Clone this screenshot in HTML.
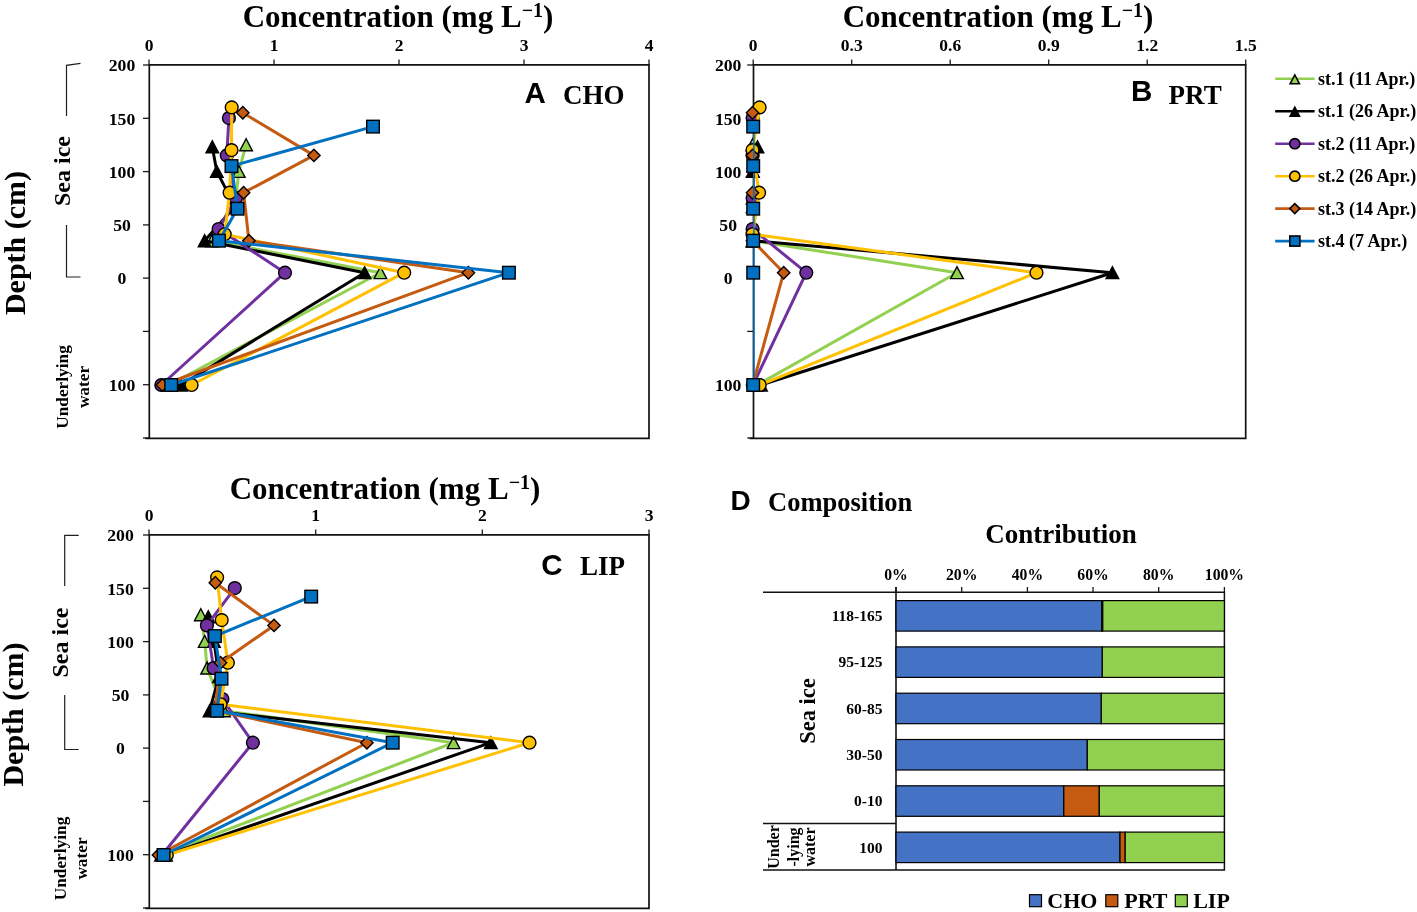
<!DOCTYPE html><html><head><meta charset="utf-8"><style>html,body{margin:0;padding:0;background:#fff;}svg{display:block;will-change:transform;}</style></head><body>
<svg width="1417" height="912" viewBox="0 0 1417 912">
<rect width="1417" height="912" fill="#fff"/>
<text transform="translate(24.5,243.0) rotate(-90)" font-family="Liberation Serif, serif" font-weight="bold" font-size="30" text-anchor="middle">Depth (cm)</text>
<path d="M80.5,63.3 L66.5,65.3 V116" fill="none" stroke="#222" stroke-width="1.2"/>
<path d="M66.5,225 V277 H80.5" fill="none" stroke="#222" stroke-width="1.2"/>
<text transform="translate(69.5,171.0) rotate(-90)" font-family="Liberation Serif, serif" font-weight="bold" font-size="24" text-anchor="middle">Sea ice</text>
<text transform="translate(67.5,387.0) rotate(-90)" font-family="Liberation Serif, serif" font-weight="bold" font-size="17.3" text-anchor="middle">Underlying</text>
<text transform="translate(88.7,387.0) rotate(-90)" font-family="Liberation Serif, serif" font-weight="bold" font-size="17.3" text-anchor="middle">water</text>
<text transform="translate(22.7,714.5) rotate(-90)" font-family="Liberation Serif, serif" font-weight="bold" font-size="30" text-anchor="middle">Depth (cm)</text>
<path d="M78.7,535.3 L64.7,535.3 V586" fill="none" stroke="#222" stroke-width="1.2"/>
<path d="M64.7,695 V749.5 H78.7" fill="none" stroke="#222" stroke-width="1.2"/>
<text transform="translate(67.7,642.5) rotate(-90)" font-family="Liberation Serif, serif" font-weight="bold" font-size="24" text-anchor="middle">Sea ice</text>
<text transform="translate(65.7,858.5) rotate(-90)" font-family="Liberation Serif, serif" font-weight="bold" font-size="17.3" text-anchor="middle">Underlying</text>
<text transform="translate(86.9,858.5) rotate(-90)" font-family="Liberation Serif, serif" font-weight="bold" font-size="17.3" text-anchor="middle">water</text>
<text x="398" y="26.5" font-family="Liberation Serif, serif" font-weight="bold" font-size="31" text-anchor="middle">Concentration (mg L<tspan font-size="20" dy="-10">−1</tspan><tspan dy="10">)</tspan></text>
<path d="M149.3,438.3 V64.8 H649.0 V438.3 H145.3" fill="none" stroke="#111" stroke-width="1.7"/>
<line x1="149.0" y1="59.5" x2="149.0" y2="65" stroke="#1a1a1a" stroke-width="1.3"/>
<text x="149.0" y="50.8" font-family="Liberation Serif, serif" font-weight="bold" font-size="17.5" text-anchor="middle">0</text>
<line x1="274.0" y1="59.5" x2="274.0" y2="65" stroke="#1a1a1a" stroke-width="1.3"/>
<text x="274.0" y="50.8" font-family="Liberation Serif, serif" font-weight="bold" font-size="17.5" text-anchor="middle">1</text>
<line x1="399.0" y1="59.5" x2="399.0" y2="65" stroke="#1a1a1a" stroke-width="1.3"/>
<text x="399.0" y="50.8" font-family="Liberation Serif, serif" font-weight="bold" font-size="17.5" text-anchor="middle">2</text>
<line x1="524.0" y1="59.5" x2="524.0" y2="65" stroke="#1a1a1a" stroke-width="1.3"/>
<text x="524.0" y="50.8" font-family="Liberation Serif, serif" font-weight="bold" font-size="17.5" text-anchor="middle">3</text>
<line x1="649.0" y1="59.5" x2="649.0" y2="65" stroke="#1a1a1a" stroke-width="1.3"/>
<text x="649.0" y="50.8" font-family="Liberation Serif, serif" font-weight="bold" font-size="17.5" text-anchor="middle">4</text>
<line x1="143" y1="65.0" x2="149" y2="65.0" stroke="#1a1a1a" stroke-width="1.3"/>
<text x="122.0" y="71.3" font-family="Liberation Serif, serif" font-weight="bold" font-size="17.7" text-anchor="middle">200</text>
<line x1="143" y1="118.3" x2="149" y2="118.3" stroke="#1a1a1a" stroke-width="1.3"/>
<text x="122.0" y="124.6" font-family="Liberation Serif, serif" font-weight="bold" font-size="17.7" text-anchor="middle">150</text>
<line x1="143" y1="171.6" x2="149" y2="171.6" stroke="#1a1a1a" stroke-width="1.3"/>
<text x="122.0" y="177.9" font-family="Liberation Serif, serif" font-weight="bold" font-size="17.7" text-anchor="middle">100</text>
<line x1="143" y1="224.9" x2="149" y2="224.9" stroke="#1a1a1a" stroke-width="1.3"/>
<text x="122.0" y="231.2" font-family="Liberation Serif, serif" font-weight="bold" font-size="17.7" text-anchor="middle">50</text>
<line x1="143" y1="278.1" x2="149" y2="278.1" stroke="#1a1a1a" stroke-width="1.3"/>
<text x="122.0" y="284.4" font-family="Liberation Serif, serif" font-weight="bold" font-size="17.7" text-anchor="middle">0</text>
<line x1="143" y1="331.4" x2="149" y2="331.4" stroke="#1a1a1a" stroke-width="1.3"/>
<line x1="143" y1="384.7" x2="149" y2="384.7" stroke="#1a1a1a" stroke-width="1.3"/>
<text x="122.0" y="391.0" font-family="Liberation Serif, serif" font-weight="bold" font-size="17.7" text-anchor="middle">100</text>
<line x1="143" y1="438.0" x2="149" y2="438.0" stroke="#1a1a1a" stroke-width="1.3"/>
<text x="524.5" y="103.0" font-family="Liberation Sans, sans-serif" font-weight="bold" font-size="29.5">A</text>
<text x="563" y="104.0" font-family="Liberation Serif, serif" font-weight="bold" font-size="27">CHO</text>
<clipPath id="clip149_0"><rect x="149" y="65" width="500.0" height="373"/></clipPath>
<polyline points="246.1,144.8 238.8,171.4 236.0,198.1 212.0,240.7 380.4,272.7 169.0,385.0" fill="none" stroke="#92D050" stroke-width="3.0" stroke-linejoin="round" clip-path="url(#clip149_0)"/>
<polygon points="239.80,150.75 252.40,150.75 246.10,138.75" fill="#92D050" stroke="#000" stroke-width="1.40" stroke-linejoin="miter"/>
<polygon points="232.50,177.40 245.10,177.40 238.80,165.40" fill="#92D050" stroke="#000" stroke-width="1.40" stroke-linejoin="miter"/>
<polygon points="229.70,204.05 242.30,204.05 236.00,192.05" fill="#92D050" stroke="#000" stroke-width="1.40" stroke-linejoin="miter"/>
<polygon points="205.70,246.69 218.30,246.69 212.00,234.69" fill="#92D050" stroke="#000" stroke-width="1.40" stroke-linejoin="miter"/>
<polygon points="374.10,278.67 386.70,278.67 380.40,266.67" fill="#92D050" stroke="#000" stroke-width="1.40" stroke-linejoin="miter"/>
<polygon points="162.70,391.00 175.30,391.00 169.00,379.00" fill="#92D050" stroke="#000" stroke-width="1.40" stroke-linejoin="miter"/>
<polyline points="212.3,146.9 216.8,171.4 235.0,206.6 204.6,240.7 364.6,272.7 181.0,385.0" fill="none" stroke="#000000" stroke-width="3.0" stroke-linejoin="round" clip-path="url(#clip149_0)"/>
<polygon points="206.00,152.88 218.60,152.88 212.30,140.88" fill="#000000" stroke="#000" stroke-width="1.40" stroke-linejoin="miter"/>
<polygon points="210.50,177.40 223.10,177.40 216.80,165.40" fill="#000000" stroke="#000" stroke-width="1.40" stroke-linejoin="miter"/>
<polygon points="228.70,212.58 241.30,212.58 235.00,200.58" fill="#000000" stroke="#000" stroke-width="1.40" stroke-linejoin="miter"/>
<polygon points="198.30,246.69 210.90,246.69 204.60,234.69" fill="#000000" stroke="#000" stroke-width="1.40" stroke-linejoin="miter"/>
<polygon points="358.30,278.67 370.90,278.67 364.60,266.67" fill="#000000" stroke="#000" stroke-width="1.40" stroke-linejoin="miter"/>
<polygon points="174.70,391.00 187.30,391.00 181.00,379.00" fill="#000000" stroke="#000" stroke-width="1.40" stroke-linejoin="miter"/>
<polyline points="228.9,118.1 226.8,155.4 236.0,198.1 218.6,229.0 285.0,272.7 161.3,385.0" fill="none" stroke="#7030A0" stroke-width="3.0" stroke-linejoin="round" clip-path="url(#clip149_0)"/>
<circle cx="228.9" cy="118.1" r="6.40" fill="#7030A0" stroke="#000" stroke-width="1.40"/>
<circle cx="226.8" cy="155.4" r="6.40" fill="#7030A0" stroke="#000" stroke-width="1.40"/>
<circle cx="236.0" cy="198.1" r="6.40" fill="#7030A0" stroke="#000" stroke-width="1.40"/>
<circle cx="218.6" cy="229.0" r="6.40" fill="#7030A0" stroke="#000" stroke-width="1.40"/>
<circle cx="285.0" cy="272.7" r="6.40" fill="#7030A0" stroke="#000" stroke-width="1.40"/>
<circle cx="161.3" cy="385.0" r="6.40" fill="#7030A0" stroke="#000" stroke-width="1.40"/>
<polyline points="231.7,107.4 231.5,150.1 229.6,192.7 224.7,234.3 404.2,272.7 191.6,385.0" fill="none" stroke="#FFC000" stroke-width="3.0" stroke-linejoin="round" clip-path="url(#clip149_0)"/>
<circle cx="231.7" cy="107.4" r="6.40" fill="#FFC000" stroke="#000" stroke-width="1.40"/>
<circle cx="231.5" cy="150.1" r="6.40" fill="#FFC000" stroke="#000" stroke-width="1.40"/>
<circle cx="229.6" cy="192.7" r="6.40" fill="#FFC000" stroke="#000" stroke-width="1.40"/>
<circle cx="224.7" cy="234.3" r="6.40" fill="#FFC000" stroke="#000" stroke-width="1.40"/>
<circle cx="404.2" cy="272.7" r="6.40" fill="#FFC000" stroke="#000" stroke-width="1.40"/>
<circle cx="191.6" cy="385.0" r="6.40" fill="#FFC000" stroke="#000" stroke-width="1.40"/>
<polyline points="242.8,112.8 313.9,155.4 243.6,192.7 248.9,240.7 468.4,272.7 162.3,385.0" fill="none" stroke="#C55A11" stroke-width="3.0" stroke-linejoin="round" clip-path="url(#clip149_0)"/>
<polygon points="242.8,106.6 249.0,112.8 242.8,119.0 236.6,112.8" fill="#C55A11" stroke="#000" stroke-width="1.40"/>
<polygon points="313.9,149.2 320.1,155.4 313.9,161.6 307.7,155.4" fill="#C55A11" stroke="#000" stroke-width="1.40"/>
<polygon points="243.6,186.5 249.8,192.7 243.6,198.9 237.4,192.7" fill="#C55A11" stroke="#000" stroke-width="1.40"/>
<polygon points="248.9,234.5 255.1,240.7 248.9,246.9 242.7,240.7" fill="#C55A11" stroke="#000" stroke-width="1.40"/>
<polygon points="468.4,266.5 474.6,272.7 468.4,278.9 462.2,272.7" fill="#C55A11" stroke="#000" stroke-width="1.40"/>
<polygon points="162.3,378.8 168.5,385.0 162.3,391.2 156.1,385.0" fill="#C55A11" stroke="#000" stroke-width="1.40"/>
<polyline points="373.0,126.6 231.5,166.1 237.5,208.7 219.0,240.7 508.9,272.7 171.2,385.0" fill="none" stroke="#0070C0" stroke-width="3.0" stroke-linejoin="round" clip-path="url(#clip149_0)"/>
<rect x="366.7" y="120.3" width="12.6" height="12.6" fill="#0070C0" stroke="#000" stroke-width="1.40"/>
<rect x="225.2" y="159.8" width="12.6" height="12.6" fill="#0070C0" stroke="#000" stroke-width="1.40"/>
<rect x="231.2" y="202.4" width="12.6" height="12.6" fill="#0070C0" stroke="#000" stroke-width="1.40"/>
<rect x="212.7" y="234.4" width="12.6" height="12.6" fill="#0070C0" stroke="#000" stroke-width="1.40"/>
<rect x="502.6" y="266.4" width="12.6" height="12.6" fill="#0070C0" stroke="#000" stroke-width="1.40"/>
<rect x="164.9" y="378.7" width="12.6" height="12.6" fill="#0070C0" stroke="#000" stroke-width="1.40"/>
<text x="998" y="26.5" font-family="Liberation Serif, serif" font-weight="bold" font-size="31" text-anchor="middle">Concentration (mg L<tspan font-size="20" dy="-10">−1</tspan><tspan dy="10">)</tspan></text>
<path d="M753.5,438.3 V64.8 H1245.7 V438.3 H749.5" fill="none" stroke="#111" stroke-width="1.7"/>
<line x1="753.2" y1="59.5" x2="753.2" y2="65" stroke="#1a1a1a" stroke-width="1.3"/>
<text x="753.2" y="50.8" font-family="Liberation Serif, serif" font-weight="bold" font-size="17.5" text-anchor="middle">0</text>
<line x1="851.7" y1="59.5" x2="851.7" y2="65" stroke="#1a1a1a" stroke-width="1.3"/>
<text x="851.7" y="50.8" font-family="Liberation Serif, serif" font-weight="bold" font-size="17.5" text-anchor="middle">0.3</text>
<line x1="950.2" y1="59.5" x2="950.2" y2="65" stroke="#1a1a1a" stroke-width="1.3"/>
<text x="950.2" y="50.8" font-family="Liberation Serif, serif" font-weight="bold" font-size="17.5" text-anchor="middle">0.6</text>
<line x1="1048.7" y1="59.5" x2="1048.7" y2="65" stroke="#1a1a1a" stroke-width="1.3"/>
<text x="1048.7" y="50.8" font-family="Liberation Serif, serif" font-weight="bold" font-size="17.5" text-anchor="middle">0.9</text>
<line x1="1147.2" y1="59.5" x2="1147.2" y2="65" stroke="#1a1a1a" stroke-width="1.3"/>
<text x="1147.2" y="50.8" font-family="Liberation Serif, serif" font-weight="bold" font-size="17.5" text-anchor="middle">1.2</text>
<line x1="1245.7" y1="59.5" x2="1245.7" y2="65" stroke="#1a1a1a" stroke-width="1.3"/>
<text x="1245.7" y="50.8" font-family="Liberation Serif, serif" font-weight="bold" font-size="17.5" text-anchor="middle">1.5</text>
<line x1="747.2" y1="65.0" x2="753.2" y2="65.0" stroke="#1a1a1a" stroke-width="1.3"/>
<text x="728.2" y="71.3" font-family="Liberation Serif, serif" font-weight="bold" font-size="17.7" text-anchor="middle">200</text>
<line x1="747.2" y1="118.3" x2="753.2" y2="118.3" stroke="#1a1a1a" stroke-width="1.3"/>
<text x="728.2" y="124.6" font-family="Liberation Serif, serif" font-weight="bold" font-size="17.7" text-anchor="middle">150</text>
<line x1="747.2" y1="171.6" x2="753.2" y2="171.6" stroke="#1a1a1a" stroke-width="1.3"/>
<text x="728.2" y="177.9" font-family="Liberation Serif, serif" font-weight="bold" font-size="17.7" text-anchor="middle">100</text>
<line x1="747.2" y1="224.9" x2="753.2" y2="224.9" stroke="#1a1a1a" stroke-width="1.3"/>
<text x="728.2" y="231.2" font-family="Liberation Serif, serif" font-weight="bold" font-size="17.7" text-anchor="middle">50</text>
<line x1="747.2" y1="278.1" x2="753.2" y2="278.1" stroke="#1a1a1a" stroke-width="1.3"/>
<text x="728.2" y="284.4" font-family="Liberation Serif, serif" font-weight="bold" font-size="17.7" text-anchor="middle">0</text>
<line x1="747.2" y1="331.4" x2="753.2" y2="331.4" stroke="#1a1a1a" stroke-width="1.3"/>
<line x1="747.2" y1="384.7" x2="753.2" y2="384.7" stroke="#1a1a1a" stroke-width="1.3"/>
<text x="728.2" y="391.0" font-family="Liberation Serif, serif" font-weight="bold" font-size="17.7" text-anchor="middle">100</text>
<line x1="747.2" y1="438.0" x2="753.2" y2="438.0" stroke="#1a1a1a" stroke-width="1.3"/>
<text x="1131.0" y="101.2" font-family="Liberation Sans, sans-serif" font-weight="bold" font-size="29.5">B</text>
<text x="1168.6" y="104.0" font-family="Liberation Serif, serif" font-weight="bold" font-size="27">PRT</text>
<clipPath id="clip753_0"><rect x="753.2" y="65" width="492.5" height="373"/></clipPath>
<polyline points="752.6,144.8 752.6,171.4 752.6,198.1 752.6,240.7 957.0,272.7 757.0,385.0" fill="none" stroke="#92D050" stroke-width="3.0" stroke-linejoin="round" clip-path="url(#clip753_0)"/>
<polygon points="746.30,150.75 758.90,150.75 752.60,138.75" fill="#92D050" stroke="#000" stroke-width="1.40" stroke-linejoin="miter"/>
<polygon points="746.30,177.40 758.90,177.40 752.60,165.40" fill="#92D050" stroke="#000" stroke-width="1.40" stroke-linejoin="miter"/>
<polygon points="746.30,204.05 758.90,204.05 752.60,192.05" fill="#92D050" stroke="#000" stroke-width="1.40" stroke-linejoin="miter"/>
<polygon points="746.30,246.69 758.90,246.69 752.60,234.69" fill="#92D050" stroke="#000" stroke-width="1.40" stroke-linejoin="miter"/>
<polygon points="950.70,278.67 963.30,278.67 957.00,266.67" fill="#92D050" stroke="#000" stroke-width="1.40" stroke-linejoin="miter"/>
<polygon points="750.70,391.00 763.30,391.00 757.00,379.00" fill="#92D050" stroke="#000" stroke-width="1.40" stroke-linejoin="miter"/>
<polyline points="757.5,146.9 753.0,171.4 752.6,206.6 752.6,240.7 1112.4,272.7 761.0,385.0" fill="none" stroke="#000000" stroke-width="3.0" stroke-linejoin="round" clip-path="url(#clip753_0)"/>
<polygon points="751.20,152.88 763.80,152.88 757.50,140.88" fill="#000000" stroke="#000" stroke-width="1.40" stroke-linejoin="miter"/>
<polygon points="746.70,177.40 759.30,177.40 753.00,165.40" fill="#000000" stroke="#000" stroke-width="1.40" stroke-linejoin="miter"/>
<polygon points="746.30,212.58 758.90,212.58 752.60,200.58" fill="#000000" stroke="#000" stroke-width="1.40" stroke-linejoin="miter"/>
<polygon points="746.30,246.69 758.90,246.69 752.60,234.69" fill="#000000" stroke="#000" stroke-width="1.40" stroke-linejoin="miter"/>
<polygon points="1106.10,278.67 1118.70,278.67 1112.40,266.67" fill="#000000" stroke="#000" stroke-width="1.40" stroke-linejoin="miter"/>
<polygon points="754.70,391.00 767.30,391.00 761.00,379.00" fill="#000000" stroke="#000" stroke-width="1.40" stroke-linejoin="miter"/>
<polyline points="752.6,118.1 752.6,155.4 752.6,198.1 752.6,229.0 806.3,272.7 753.0,385.0" fill="none" stroke="#7030A0" stroke-width="3.0" stroke-linejoin="round" clip-path="url(#clip753_0)"/>
<circle cx="752.6" cy="118.1" r="6.40" fill="#7030A0" stroke="#000" stroke-width="1.40"/>
<circle cx="752.6" cy="155.4" r="6.40" fill="#7030A0" stroke="#000" stroke-width="1.40"/>
<circle cx="752.6" cy="198.1" r="6.40" fill="#7030A0" stroke="#000" stroke-width="1.40"/>
<circle cx="752.6" cy="229.0" r="6.40" fill="#7030A0" stroke="#000" stroke-width="1.40"/>
<circle cx="806.3" cy="272.7" r="6.40" fill="#7030A0" stroke="#000" stroke-width="1.40"/>
<circle cx="753.0" cy="385.0" r="6.40" fill="#7030A0" stroke="#000" stroke-width="1.40"/>
<polyline points="759.6,107.4 752.5,150.1 759.1,192.7 752.5,234.3 1036.5,272.7 759.7,385.0" fill="none" stroke="#FFC000" stroke-width="3.0" stroke-linejoin="round" clip-path="url(#clip753_0)"/>
<circle cx="759.6" cy="107.4" r="6.40" fill="#FFC000" stroke="#000" stroke-width="1.40"/>
<circle cx="752.5" cy="150.1" r="6.40" fill="#FFC000" stroke="#000" stroke-width="1.40"/>
<circle cx="759.1" cy="192.7" r="6.40" fill="#FFC000" stroke="#000" stroke-width="1.40"/>
<circle cx="752.5" cy="234.3" r="6.40" fill="#FFC000" stroke="#000" stroke-width="1.40"/>
<circle cx="1036.5" cy="272.7" r="6.40" fill="#FFC000" stroke="#000" stroke-width="1.40"/>
<circle cx="759.7" cy="385.0" r="6.40" fill="#FFC000" stroke="#000" stroke-width="1.40"/>
<polyline points="752.5,112.8 752.5,155.4 752.5,192.7 752.5,240.7 783.7,272.7 752.6,385.0" fill="none" stroke="#C55A11" stroke-width="3.0" stroke-linejoin="round" clip-path="url(#clip753_0)"/>
<polygon points="752.5,106.6 758.7,112.8 752.5,119.0 746.3,112.8" fill="#C55A11" stroke="#000" stroke-width="1.40"/>
<polygon points="752.5,149.2 758.7,155.4 752.5,161.6 746.3,155.4" fill="#C55A11" stroke="#000" stroke-width="1.40"/>
<polygon points="752.5,186.5 758.7,192.7 752.5,198.9 746.3,192.7" fill="#C55A11" stroke="#000" stroke-width="1.40"/>
<polygon points="752.5,234.5 758.7,240.7 752.5,246.9 746.3,240.7" fill="#C55A11" stroke="#000" stroke-width="1.40"/>
<polygon points="783.7,266.5 789.9,272.7 783.7,278.9 777.5,272.7" fill="#C55A11" stroke="#000" stroke-width="1.40"/>
<polygon points="752.6,378.8 758.8,385.0 752.6,391.2 746.4,385.0" fill="#C55A11" stroke="#000" stroke-width="1.40"/>
<polyline points="753.2,126.6 753.2,166.1 753.2,208.7 753.2,240.7 753.2,272.7 753.2,385.0" fill="none" stroke="#0070C0" stroke-width="3.0" stroke-linejoin="round" clip-path="url(#clip753_0)"/>
<rect x="746.9" y="120.3" width="12.6" height="12.6" fill="#0070C0" stroke="#000" stroke-width="1.40"/>
<rect x="746.9" y="159.8" width="12.6" height="12.6" fill="#0070C0" stroke="#000" stroke-width="1.40"/>
<rect x="746.9" y="202.4" width="12.6" height="12.6" fill="#0070C0" stroke="#000" stroke-width="1.40"/>
<rect x="746.9" y="234.4" width="12.6" height="12.6" fill="#0070C0" stroke="#000" stroke-width="1.40"/>
<rect x="746.9" y="266.4" width="12.6" height="12.6" fill="#0070C0" stroke="#000" stroke-width="1.40"/>
<rect x="746.9" y="378.7" width="12.6" height="12.6" fill="#0070C0" stroke="#000" stroke-width="1.40"/>
<text x="385" y="498.5" font-family="Liberation Serif, serif" font-weight="bold" font-size="31" text-anchor="middle">Concentration (mg L<tspan font-size="20" dy="-10">−1</tspan><tspan dy="10">)</tspan></text>
<path d="M149.3,908.3 V534.8 H649.0 V908.3 H145.3" fill="none" stroke="#111" stroke-width="1.7"/>
<line x1="149.0" y1="529.5" x2="149.0" y2="535" stroke="#1a1a1a" stroke-width="1.3"/>
<text x="149.0" y="520.8" font-family="Liberation Serif, serif" font-weight="bold" font-size="17.5" text-anchor="middle">0</text>
<line x1="315.7" y1="529.5" x2="315.7" y2="535" stroke="#1a1a1a" stroke-width="1.3"/>
<text x="315.7" y="520.8" font-family="Liberation Serif, serif" font-weight="bold" font-size="17.5" text-anchor="middle">1</text>
<line x1="482.3" y1="529.5" x2="482.3" y2="535" stroke="#1a1a1a" stroke-width="1.3"/>
<text x="482.3" y="520.8" font-family="Liberation Serif, serif" font-weight="bold" font-size="17.5" text-anchor="middle">2</text>
<line x1="649.0" y1="529.5" x2="649.0" y2="535" stroke="#1a1a1a" stroke-width="1.3"/>
<text x="649.0" y="520.8" font-family="Liberation Serif, serif" font-weight="bold" font-size="17.5" text-anchor="middle">3</text>
<line x1="143" y1="535.0" x2="149" y2="535.0" stroke="#1a1a1a" stroke-width="1.3"/>
<text x="120.5" y="541.3" font-family="Liberation Serif, serif" font-weight="bold" font-size="17.7" text-anchor="middle">200</text>
<line x1="143" y1="588.3" x2="149" y2="588.3" stroke="#1a1a1a" stroke-width="1.3"/>
<text x="120.5" y="594.6" font-family="Liberation Serif, serif" font-weight="bold" font-size="17.7" text-anchor="middle">150</text>
<line x1="143" y1="641.6" x2="149" y2="641.6" stroke="#1a1a1a" stroke-width="1.3"/>
<text x="120.5" y="647.9" font-family="Liberation Serif, serif" font-weight="bold" font-size="17.7" text-anchor="middle">100</text>
<line x1="143" y1="694.9" x2="149" y2="694.9" stroke="#1a1a1a" stroke-width="1.3"/>
<text x="120.5" y="701.2" font-family="Liberation Serif, serif" font-weight="bold" font-size="17.7" text-anchor="middle">50</text>
<line x1="143" y1="748.1" x2="149" y2="748.1" stroke="#1a1a1a" stroke-width="1.3"/>
<text x="120.5" y="754.4" font-family="Liberation Serif, serif" font-weight="bold" font-size="17.7" text-anchor="middle">0</text>
<line x1="143" y1="801.4" x2="149" y2="801.4" stroke="#1a1a1a" stroke-width="1.3"/>
<line x1="143" y1="854.7" x2="149" y2="854.7" stroke="#1a1a1a" stroke-width="1.3"/>
<text x="120.5" y="861.0" font-family="Liberation Serif, serif" font-weight="bold" font-size="17.7" text-anchor="middle">100</text>
<line x1="143" y1="908.0" x2="149" y2="908.0" stroke="#1a1a1a" stroke-width="1.3"/>
<text x="541.3" y="575.0" font-family="Liberation Sans, sans-serif" font-weight="bold" font-size="29.5">C</text>
<text x="580" y="575.4" font-family="Liberation Serif, serif" font-weight="bold" font-size="27">LIP</text>
<clipPath id="clip149_470"><rect x="149" y="535" width="500.0" height="373"/></clipPath>
<polyline points="200.8,614.8 204.7,641.4 207.1,668.0 224.0,710.7 453.6,742.7 161.0,855.0" fill="none" stroke="#92D050" stroke-width="3.0" stroke-linejoin="round" clip-path="url(#clip149_470)"/>
<polygon points="194.50,620.75 207.10,620.75 200.80,608.75" fill="#92D050" stroke="#000" stroke-width="1.40" stroke-linejoin="miter"/>
<polygon points="198.40,647.40 211.00,647.40 204.70,635.40" fill="#92D050" stroke="#000" stroke-width="1.40" stroke-linejoin="miter"/>
<polygon points="200.80,674.05 213.40,674.05 207.10,662.05" fill="#92D050" stroke="#000" stroke-width="1.40" stroke-linejoin="miter"/>
<polygon points="217.70,716.69 230.30,716.69 224.00,704.69" fill="#92D050" stroke="#000" stroke-width="1.40" stroke-linejoin="miter"/>
<polygon points="447.30,748.67 459.90,748.67 453.60,736.67" fill="#92D050" stroke="#000" stroke-width="1.40" stroke-linejoin="miter"/>
<polygon points="154.70,861.00 167.30,861.00 161.00,849.00" fill="#92D050" stroke="#000" stroke-width="1.40" stroke-linejoin="miter"/>
<polyline points="208.3,616.9 214.0,641.4 219.0,676.6 209.6,710.7 490.8,742.7 166.0,855.0" fill="none" stroke="#000000" stroke-width="3.0" stroke-linejoin="round" clip-path="url(#clip149_470)"/>
<polygon points="202.00,622.88 214.60,622.88 208.30,610.88" fill="#000000" stroke="#000" stroke-width="1.40" stroke-linejoin="miter"/>
<polygon points="207.70,647.40 220.30,647.40 214.00,635.40" fill="#000000" stroke="#000" stroke-width="1.40" stroke-linejoin="miter"/>
<polygon points="212.70,682.58 225.30,682.58 219.00,670.58" fill="#000000" stroke="#000" stroke-width="1.40" stroke-linejoin="miter"/>
<polygon points="203.30,716.69 215.90,716.69 209.60,704.69" fill="#000000" stroke="#000" stroke-width="1.40" stroke-linejoin="miter"/>
<polygon points="484.50,748.67 497.10,748.67 490.80,736.67" fill="#000000" stroke="#000" stroke-width="1.40" stroke-linejoin="miter"/>
<polygon points="159.70,861.00 172.30,861.00 166.00,849.00" fill="#000000" stroke="#000" stroke-width="1.40" stroke-linejoin="miter"/>
<polyline points="234.8,588.1 206.9,625.4 213.6,668.0 222.4,699.0 252.9,742.7 162.0,855.0" fill="none" stroke="#7030A0" stroke-width="3.0" stroke-linejoin="round" clip-path="url(#clip149_470)"/>
<circle cx="234.8" cy="588.1" r="6.40" fill="#7030A0" stroke="#000" stroke-width="1.40"/>
<circle cx="206.9" cy="625.4" r="6.40" fill="#7030A0" stroke="#000" stroke-width="1.40"/>
<circle cx="213.6" cy="668.0" r="6.40" fill="#7030A0" stroke="#000" stroke-width="1.40"/>
<circle cx="222.4" cy="699.0" r="6.40" fill="#7030A0" stroke="#000" stroke-width="1.40"/>
<circle cx="252.9" cy="742.7" r="6.40" fill="#7030A0" stroke="#000" stroke-width="1.40"/>
<circle cx="162.0" cy="855.0" r="6.40" fill="#7030A0" stroke="#000" stroke-width="1.40"/>
<polyline points="217.1,577.4 221.7,620.1 227.9,662.7 220.5,704.3 529.5,742.7 166.8,855.0" fill="none" stroke="#FFC000" stroke-width="3.0" stroke-linejoin="round" clip-path="url(#clip149_470)"/>
<circle cx="217.1" cy="577.4" r="6.40" fill="#FFC000" stroke="#000" stroke-width="1.40"/>
<circle cx="221.7" cy="620.1" r="6.40" fill="#FFC000" stroke="#000" stroke-width="1.40"/>
<circle cx="227.9" cy="662.7" r="6.40" fill="#FFC000" stroke="#000" stroke-width="1.40"/>
<circle cx="220.5" cy="704.3" r="6.40" fill="#FFC000" stroke="#000" stroke-width="1.40"/>
<circle cx="529.5" cy="742.7" r="6.40" fill="#FFC000" stroke="#000" stroke-width="1.40"/>
<circle cx="166.8" cy="855.0" r="6.40" fill="#FFC000" stroke="#000" stroke-width="1.40"/>
<polyline points="215.3,582.8 274.0,625.4 220.5,662.7 215.0,710.7 366.9,742.7 158.5,855.0" fill="none" stroke="#C55A11" stroke-width="3.0" stroke-linejoin="round" clip-path="url(#clip149_470)"/>
<polygon points="215.3,576.6 221.5,582.8 215.3,589.0 209.1,582.8" fill="#C55A11" stroke="#000" stroke-width="1.40"/>
<polygon points="274.0,619.2 280.2,625.4 274.0,631.6 267.8,625.4" fill="#C55A11" stroke="#000" stroke-width="1.40"/>
<polygon points="220.5,656.5 226.7,662.7 220.5,668.9 214.3,662.7" fill="#C55A11" stroke="#000" stroke-width="1.40"/>
<polygon points="215.0,704.5 221.2,710.7 215.0,716.9 208.8,710.7" fill="#C55A11" stroke="#000" stroke-width="1.40"/>
<polygon points="366.9,736.5 373.1,742.7 366.9,748.9 360.7,742.7" fill="#C55A11" stroke="#000" stroke-width="1.40"/>
<polygon points="158.5,848.8 164.7,855.0 158.5,861.2 152.3,855.0" fill="#C55A11" stroke="#000" stroke-width="1.40"/>
<polyline points="311.2,596.6 214.9,636.1 221.5,678.7 217.0,710.7 392.7,742.7 163.6,855.0" fill="none" stroke="#0070C0" stroke-width="3.0" stroke-linejoin="round" clip-path="url(#clip149_470)"/>
<rect x="304.9" y="590.3" width="12.6" height="12.6" fill="#0070C0" stroke="#000" stroke-width="1.40"/>
<rect x="208.6" y="629.8" width="12.6" height="12.6" fill="#0070C0" stroke="#000" stroke-width="1.40"/>
<rect x="215.2" y="672.4" width="12.6" height="12.6" fill="#0070C0" stroke="#000" stroke-width="1.40"/>
<rect x="210.7" y="704.4" width="12.6" height="12.6" fill="#0070C0" stroke="#000" stroke-width="1.40"/>
<rect x="386.4" y="736.4" width="12.6" height="12.6" fill="#0070C0" stroke="#000" stroke-width="1.40"/>
<rect x="157.3" y="848.7" width="12.6" height="12.6" fill="#0070C0" stroke="#000" stroke-width="1.40"/>
<line x1="1275.2" y1="78.8" x2="1314.6" y2="78.8" stroke="#92D050" stroke-width="2.6"/>
<polygon points="1290.14,83.74 1299.46,83.74 1294.80,74.86" fill="#92D050" stroke="#000" stroke-width="1.60" stroke-linejoin="miter"/>
<text x="1318" y="84.8" font-family="Liberation Serif, serif" font-weight="bold" font-size="18">st.1 (11 Apr.)</text>
<line x1="1275.2" y1="111.2" x2="1314.6" y2="111.2" stroke="#000000" stroke-width="2.6"/>
<polygon points="1290.14,116.19 1299.46,116.19 1294.80,107.31" fill="#000000" stroke="#000" stroke-width="1.60" stroke-linejoin="miter"/>
<text x="1318" y="117.2" font-family="Liberation Serif, serif" font-weight="bold" font-size="18">st.1 (26 Apr.)</text>
<line x1="1275.2" y1="143.7" x2="1314.6" y2="143.7" stroke="#7030A0" stroke-width="2.6"/>
<circle cx="1294.8" cy="143.7" r="5.12" fill="#7030A0" stroke="#000" stroke-width="1.60"/>
<text x="1318" y="149.7" font-family="Liberation Serif, serif" font-weight="bold" font-size="18">st.2 (11 Apr.)</text>
<line x1="1275.2" y1="176.2" x2="1314.6" y2="176.2" stroke="#FFC000" stroke-width="2.6"/>
<circle cx="1294.8" cy="176.2" r="5.12" fill="#FFC000" stroke="#000" stroke-width="1.60"/>
<text x="1318" y="182.2" font-family="Liberation Serif, serif" font-weight="bold" font-size="18">st.2 (26 Apr.)</text>
<line x1="1275.2" y1="208.6" x2="1314.6" y2="208.6" stroke="#C55A11" stroke-width="2.6"/>
<polygon points="1294.8,203.6 1299.8,208.6 1294.8,213.6 1289.8,208.6" fill="#C55A11" stroke="#000" stroke-width="1.60"/>
<text x="1318" y="214.6" font-family="Liberation Serif, serif" font-weight="bold" font-size="18">st.3 (14 Apr.)</text>
<line x1="1275.2" y1="241.1" x2="1314.6" y2="241.1" stroke="#0070C0" stroke-width="2.6"/>
<rect x="1289.8" y="236.0" width="10.1" height="10.1" fill="#0070C0" stroke="#000" stroke-width="1.60"/>
<text x="1318" y="247.1" font-family="Liberation Serif, serif" font-weight="bold" font-size="18">st.4 (7 Apr.)</text>
<text x="730.5" y="510.3" font-family="Liberation Sans, sans-serif" font-weight="bold" font-size="28">D</text>
<text x="768" y="511" font-family="Liberation Serif, serif" font-weight="bold" font-size="26.5">Composition</text>
<text x="1061" y="543" font-family="Liberation Serif, serif" font-weight="bold" font-size="27" text-anchor="middle">Contribution</text>
<line x1="896.0" y1="587" x2="896.0" y2="592.3" stroke="#1a1a1a" stroke-width="1.3"/>
<text x="896.0" y="579.5" font-family="Liberation Serif, serif" font-weight="bold" font-size="15.7" text-anchor="middle">0%</text>
<line x1="961.7" y1="587" x2="961.7" y2="592.3" stroke="#1a1a1a" stroke-width="1.3"/>
<text x="961.7" y="579.5" font-family="Liberation Serif, serif" font-weight="bold" font-size="15.7" text-anchor="middle">20%</text>
<line x1="1027.4" y1="587" x2="1027.4" y2="592.3" stroke="#1a1a1a" stroke-width="1.3"/>
<text x="1027.4" y="579.5" font-family="Liberation Serif, serif" font-weight="bold" font-size="15.7" text-anchor="middle">40%</text>
<line x1="1093.0" y1="587" x2="1093.0" y2="592.3" stroke="#1a1a1a" stroke-width="1.3"/>
<text x="1093.0" y="579.5" font-family="Liberation Serif, serif" font-weight="bold" font-size="15.7" text-anchor="middle">60%</text>
<line x1="1158.7" y1="587" x2="1158.7" y2="592.3" stroke="#1a1a1a" stroke-width="1.3"/>
<text x="1158.7" y="579.5" font-family="Liberation Serif, serif" font-weight="bold" font-size="15.7" text-anchor="middle">80%</text>
<line x1="1224.4" y1="587" x2="1224.4" y2="592.3" stroke="#1a1a1a" stroke-width="1.3"/>
<text x="1224.4" y="579.5" font-family="Liberation Serif, serif" font-weight="bold" font-size="15.7" text-anchor="middle">100%</text>
<path d="M763,592.3 H1224.4 V870 H763" fill="none" stroke="#111" stroke-width="1.5"/>
<line x1="896.0" y1="587" x2="896.0" y2="870" stroke="#111" stroke-width="1.6"/>
<line x1="763" y1="823.5" x2="896.0" y2="823.5" stroke="#111" stroke-width="1.5"/>
<rect x="896.0" y="600.6" width="205.8" height="30.5" fill="#4472C4" stroke="#000" stroke-width="1.2"/>
<rect x="1101.8" y="600.6" width="1.0" height="30.5" fill="#C55A11" stroke="#000" stroke-width="1.2"/>
<rect x="1102.8" y="600.6" width="121.6" height="30.5" fill="#92D050" stroke="#000" stroke-width="1.2"/>
<text x="882.5" y="621.1" font-family="Liberation Serif, serif" font-weight="bold" font-size="15.5" text-anchor="end">118-165</text>
<rect x="896.0" y="646.9" width="206.3" height="30.5" fill="#4472C4" stroke="#000" stroke-width="1.2"/>
<rect x="1102.3" y="646.9" width="122.1" height="30.5" fill="#92D050" stroke="#000" stroke-width="1.2"/>
<text x="882.5" y="667.4" font-family="Liberation Serif, serif" font-weight="bold" font-size="15.5" text-anchor="end">95-125</text>
<rect x="896.0" y="693.2" width="205.3" height="30.5" fill="#4472C4" stroke="#000" stroke-width="1.2"/>
<rect x="1101.3" y="693.2" width="123.1" height="30.5" fill="#92D050" stroke="#000" stroke-width="1.2"/>
<text x="882.5" y="713.7" font-family="Liberation Serif, serif" font-weight="bold" font-size="15.5" text-anchor="end">60-85</text>
<rect x="896.0" y="739.5" width="191.3" height="30.5" fill="#4472C4" stroke="#000" stroke-width="1.2"/>
<rect x="1087.3" y="739.5" width="137.1" height="30.5" fill="#92D050" stroke="#000" stroke-width="1.2"/>
<text x="882.5" y="760.0" font-family="Liberation Serif, serif" font-weight="bold" font-size="15.5" text-anchor="end">30-50</text>
<rect x="896.0" y="785.8" width="167.8" height="30.5" fill="#4472C4" stroke="#000" stroke-width="1.2"/>
<rect x="1063.8" y="785.8" width="35.5" height="30.5" fill="#C55A11" stroke="#000" stroke-width="1.2"/>
<rect x="1099.3" y="785.8" width="125.1" height="30.5" fill="#92D050" stroke="#000" stroke-width="1.2"/>
<text x="882.5" y="806.3" font-family="Liberation Serif, serif" font-weight="bold" font-size="15.5" text-anchor="end">0-10</text>
<rect x="896.0" y="832.1" width="224.0" height="30.5" fill="#4472C4" stroke="#000" stroke-width="1.2"/>
<rect x="1120.0" y="832.1" width="5.2" height="30.5" fill="#C55A11" stroke="#000" stroke-width="1.2"/>
<rect x="1125.2" y="832.1" width="99.2" height="30.5" fill="#92D050" stroke="#000" stroke-width="1.2"/>
<text x="882.5" y="852.6" font-family="Liberation Serif, serif" font-weight="bold" font-size="15.5" text-anchor="end">100</text>
<text transform="translate(815,711) rotate(-90)" font-family="Liberation Serif, serif" font-weight="bold" font-size="22.5" text-anchor="middle">Sea ice</text>
<text transform="translate(778.5,847) rotate(-90)" font-family="Liberation Serif, serif" font-weight="bold" font-size="16" text-anchor="middle">Under</text>
<text transform="translate(798.5,847) rotate(-90)" font-family="Liberation Serif, serif" font-weight="bold" font-size="16" text-anchor="middle">-lying</text>
<text transform="translate(815.3,847) rotate(-90)" font-family="Liberation Serif, serif" font-weight="bold" font-size="16" text-anchor="middle">water</text>
<rect x="1029.5" y="894.7" width="12" height="12" fill="#4472C4" stroke="#000" stroke-width="1.2"/>
<text x="1047.3" y="908" font-family="Liberation Serif, serif" font-weight="bold" font-size="22">CHO</text>
<rect x="1105.8" y="894.7" width="12" height="12" fill="#C55A11" stroke="#000" stroke-width="1.2"/>
<text x="1124.2" y="908" font-family="Liberation Serif, serif" font-weight="bold" font-size="22">PRT</text>
<rect x="1175.3" y="894.7" width="12" height="12" fill="#92D050" stroke="#000" stroke-width="1.2"/>
<text x="1193.2" y="908" font-family="Liberation Serif, serif" font-weight="bold" font-size="22">LIP</text>
</svg></body></html>
